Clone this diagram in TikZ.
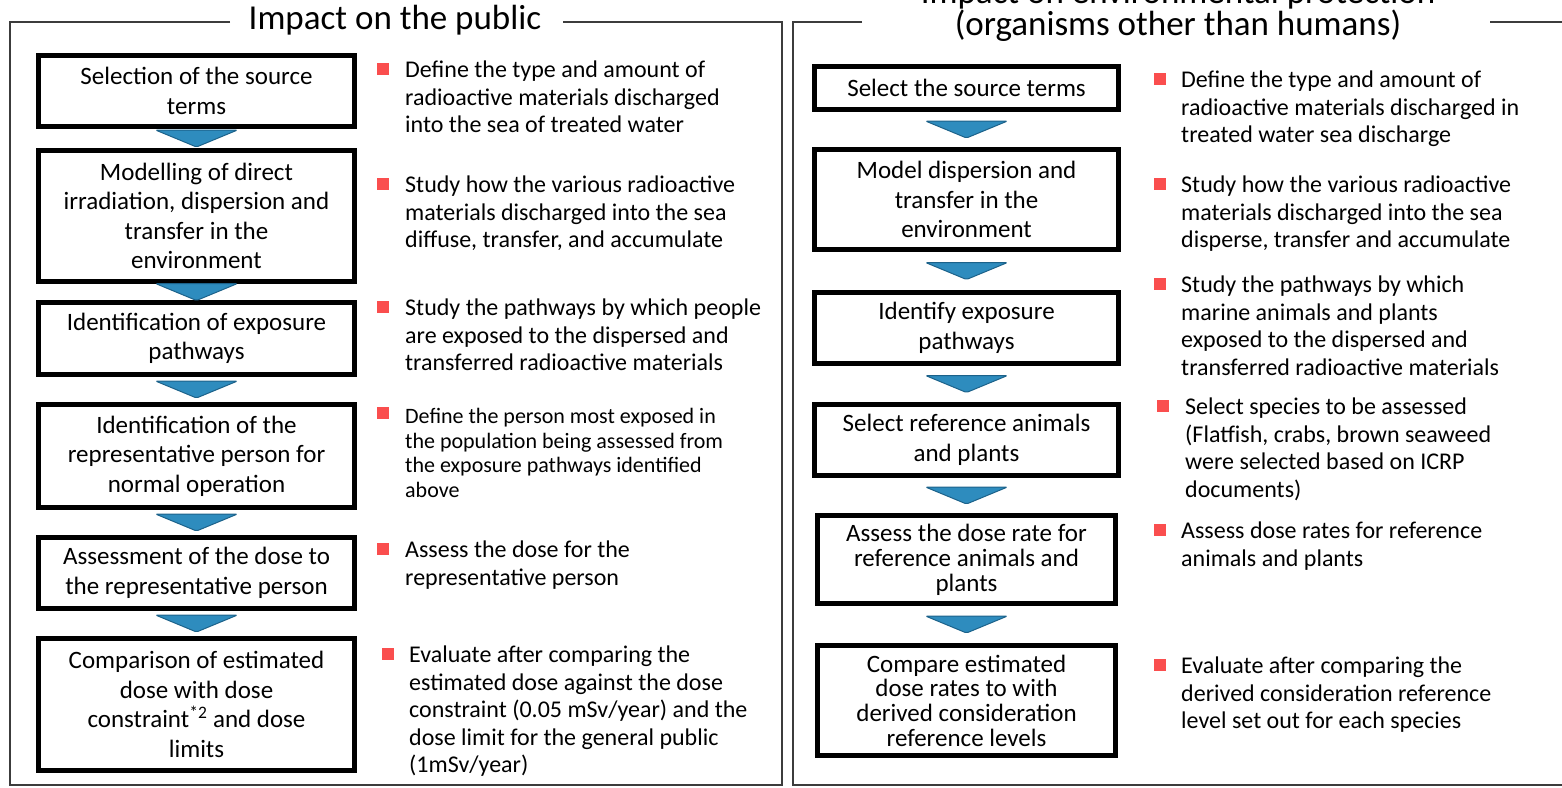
\documentclass[tikz,border=0pt]{standalone}
\usepackage{fontspec}
\setmainfont{Carlito}

\definecolor{bulletred}{RGB}{250,78,78}
\definecolor{chevfill}{RGB}{46,140,190}
\definecolor{chevline}{RGB}{28,98,138}
\definecolor{framegray}{RGB}{60,60,60}

\def\lx{196.5}
\def\rx{966.5}

\tikzset{
  stepbox/.style={draw, line width=4.5pt, align=center, inner sep=0pt,
    font=\fontsize{25}{29.5}\selectfont},
  desc/.style={anchor=north west, align=left, inner sep=0pt, yshift=-4pt,
    font=\fontsize{24}{27.5}\selectfont},
  sq/.style={fill=bulletred, minimum size=12pt, inner sep=0pt},
  chev/.style={fill=chevfill, draw=chevline, line width=1pt, rounded corners=1.5pt},
  frame/.style={draw=framegray, line width=1.6pt},
}

\newcommand\chevron[2]{%
  \path (#1.south) -- coordinate[pos=0.5] (#1m) (#2.north);
  \filldraw[chev] ([shift={(-41,-8.5)}]#1m) -- ++(82,0) -- ++(-41,17) -- cycle;}

\begin{document}
\begin{tikzpicture}[x=1pt, y=-1pt]
  \useasboundingbox (0,0) rectangle (1562,787);

  \draw[frame] (230,22) -- (10,22) -- (10,785) -- (782,785) -- (782,22) -- (563,22);
  \draw[frame] (862,22) -- (793,22) -- (793,785) -- (1570,785);
  \draw[frame] (1490,22) -- (1570,22);

  \node[font=\fontsize{35}{32}\selectfont] (ltitle) at (395,20) {Impact on the public};
  \node[font=\fontsize{35}{32}\selectfont, align=center] (rtitle) at (1178,10)
    {Impact on environmental protection\\(organisms other than humans)};

  % impact on the public
  \node[stepbox, minimum width=316, minimum height=71] (l1) at (\lx,91)
    {Selection of the source\\terms};
  \node[stepbox, minimum width=316, minimum height=131] (l2) at (\lx,216)
    {Modelling of direct\\irradiation, dispersion and\\transfer in the\\environment};
  \node[stepbox, minimum width=316, minimum height=72] (l3) at (\lx,338.5)
    {Identification of exposure\\pathways};
  \node[stepbox, minimum width=316, minimum height=103] (l4) at (\lx,456)
    {Identification of the\\representative person for\\normal operation};
  \node[stepbox, minimum width=316, minimum height=71] (l5) at (\lx,573)
    {Assessment of the dose to\\the representative person};
  \node[stepbox, minimum width=316, minimum height=132] (l6) at (\lx,704.5)
    {Comparison of estimated\\dose with dose\\constraint\textsuperscript{*2} and dose\\limits};

  \chevron{l1}{l2}
  \chevron{l2}{l3}
  \chevron{l3}{l4}
  \chevron{l4}{l5}
  \chevron{l5}{l6}

  \node[sq] (lb1) at (383,69) {};
  \node[desc] (ld1) at (405,57)
    {Define the type and amount of\\radioactive materials discharged\\into the sea of treated water};
  \node[sq] (lb2) at (383,184) {};
  \node[desc] (ld2) at (405,172)
    {Study how the various radioactive\\materials discharged into the sea\\diffuse, transfer, and accumulate};
  \node[sq] (lb3) at (383,307) {};
  \node[desc] (ld3) at (405,295)
    {Study the pathways by which people\\are exposed to the dispersed and\\transferred radioactive materials};
  \node[sq] (lb4) at (383,413) {};
  \node[desc, font=\fontsize{22}{24.7}\selectfont] (ld4) at (405,404)
    {Define the person most exposed in\\the population being assessed from\\the exposure pathways identified\\above};
  \node[sq] (lb5) at (383,549) {};
  \node[desc] (ld5) at (405,537)
    {Assess the dose for the\\representative person};
  \node[sq] (lb6) at (388,654) {};
  \node[desc] (ld6) at (409,642)
    {Evaluate after comparing the\\estimated dose against the dose\\constraint (0.05 mSv/year) and the\\dose limit for the general public\\(1mSv/year)};

  % environmental protection
  \node[stepbox, minimum width=304, minimum height=43] (r1) at (\rx,88)
    {Select the source terms};
  \node[stepbox, minimum width=304, minimum height=100] (r2) at (\rx,199.5)
    {Model dispersion and\\transfer in the\\environment};
  \node[stepbox, minimum width=304, minimum height=71] (r3) at (\rx,328)
    {Identify exposure\\pathways};
  \node[stepbox, minimum width=304, minimum height=71] (r4) at (\rx,440)
    {Select reference animals\\and plants};
  \node[stepbox, minimum width=298, minimum height=88, font=\fontsize{25}{25}\selectfont] (r5) at (\rx,559.5)
    {Assess the dose rate for\\reference animals and\\plants};
  \node[stepbox, minimum width=298, minimum height=110, font=\fontsize{25}{24.7}\selectfont] (r6) at (\rx,700.5)
    {Compare estimated\\dose rates to with\\derived consideration\\reference levels};

  \chevron{r1}{r2}
  \chevron{r2}{r3}
  \chevron{r3}{r4}
  \chevron{r4}{r5}
  \chevron{r5}{r6}

  \node[sq] (rb1) at (1160,79) {};
  \node[desc] (rd1) at (1181,67)
    {Define the type and amount of\\radioactive materials discharged in\\treated water sea discharge};
  \node[sq] (rb2) at (1160,184) {};
  \node[desc] (rd2) at (1181,172)
    {Study how the various radioactive\\materials discharged into the sea\\disperse, transfer and accumulate};
  \node[sq] (rb3) at (1160,284) {};
  \node[desc] (rd3) at (1181,272)
    {Study the pathways by which\\marine animals and plants\\exposed to the dispersed and\\transferred radioactive materials};
  \node[sq] (rb4) at (1163,406) {};
  \node[desc] (rd4) at (1185,394)
    {Select species to be assessed\\(Flatfish, crabs, brown seaweed\\were selected based on ICRP\\documents)};
  \node[sq] (rb5) at (1160,530) {};
  \node[desc] (rd5) at (1181,518)
    {Assess dose rates for reference\\animals and plants};
  \node[sq] (rb6) at (1160,665) {};
  \node[desc] (rd6) at (1181,653)
    {Evaluate after comparing the\\derived consideration reference\\level set out for each species};
\end{tikzpicture}
\end{document}
